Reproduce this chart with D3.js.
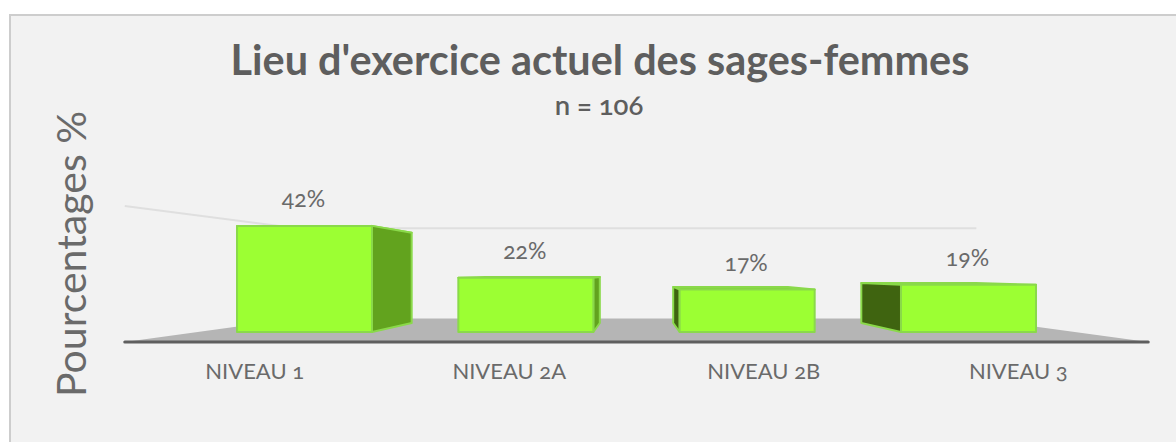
<!DOCTYPE html>
<html>
<head>
<meta charset="utf-8">
<script src="https://cdn.jsdelivr.net/npm/d3@7"></script>
<style>
html, body { margin: 0; padding: 0; background: #fff; }
svg { display: block; }
text { font-family: Lato, "Open Sans", sans-serif; fill: #5e5e5e; font-feature-settings: "onum"; }
</style>
</head>
<body>
<svg id="chart"></svg>
<script>
const categories = ["NIVEAU 1", "NIVEAU 2A", "NIVEAU 2B", "NIVEAU 3"];
const values = [42.45, 21.7, 16.98, 18.87];
const gridValues = [46.6];

const W = 1176, H = 442;
// vanishing point of the 3D view, everything is scaled towards it
const vp = { x: 636.5, y: 272 };
const barDepth = 0.85;      // back face of the bars
const floorBack = 0.775;    // back wall, seen from the bar plane
const floorFront = 1.167;   // front edge of the floor
const labelDepth = 1.15;    // category labels

function project(x, y, k) {
    return [vp.x + (x - vp.x) * k, vp.y + (y - vp.y) * k];
}

var svg = d3.select("#chart").attr("width", W).attr("height", H);

// border only on top and left, the rest runs off the picture
svg.append("rect").attr("x", 9).attr("y", 14).attr("width", W - 9).attr("height", H - 14).attr("fill", "#f2f2f2");
svg.append("path")
    .attr("fill", "none")
    .attr("stroke", "#cdcdcd")
    .attr("stroke-width", 2)
    .attr("d", "M10," + H + "V15H" + W);

var xscale = d3.scaleBand().domain(categories).range([237, 1036]).paddingInner(0.39);
var yscale = d3.scaleLinear().domain([0, 50]).range([332, 207]);

var line = d3.line();
var baseY = yscale(0);
var left = xscale(categories[0]) - 39, right = xscale(categories[3]) + xscale.bandwidth() + 39;

// floor
svg.append("path")
    .attr("fill", "#b5b5b5")
    .attr("d", line([
        project(left, baseY, floorFront),
        project(right, baseY, floorFront),
        project(right, baseY, floorBack),
        project(left, baseY, floorBack)
    ]) + "Z");

// gridline on the wall
gridValues.forEach(function (v) {
    svg.append("path")
        .attr("fill", "none")
        .attr("stroke", "#dfdfdf")
        .attr("stroke-width", 2)
        .attr("d", line([
            project(left, yscale(v), floorFront),
            project(left, yscale(v), floorBack),
            project(right, yscale(v), floorBack)
        ]));
});

// axis line
svg.append("path")
    .attr("stroke", "#5f5f5f")
    .attr("stroke-width", 3)
    .attr("stroke-linecap", "round")
    .attr("d", line([project(left, baseY, floorFront), project(right, baseY, floorFront)]));

// bars
categories.forEach(function (c, i) {
    var x0 = xscale(c), x1 = x0 + xscale.bandwidth();
    var top = yscale(values[i]);
    var g = svg.append("g").attr("stroke", "#8ad94a").attr("stroke-width", 2).attr("stroke-linejoin", "round");
    var onLeft = x1 < vp.x;
    var sx = onLeft ? x1 : x0;
    // top
    g.append("path").attr("fill", "#7cc52f")
        .attr("d", line([[x0, top], [x1, top], project(x1, top, barDepth), project(x0, top, barDepth)]) + "Z");
    // side face
    g.append("path").attr("fill", onLeft ? "#62a31e" : "#3f6410")
        .attr("d", line([[sx, top], [sx, baseY], project(sx, baseY, barDepth), project(sx, top, barDepth)]) + "Z");
    // front
    g.append("rect").attr("x", x0).attr("y", top)
        .attr("width", x1 - x0).attr("height", baseY - top)
        .attr("fill", "#9cff33");
    // value label
    svg.append("text")
        .attr("x", (x0 + x1) / 2 - 1).attr("y", top - 19)
        .attr("text-anchor", "middle")
        .attr("font-size", 23)
        .style("fill", "#6a6a6a")
        .text(Math.round(values[i]) + "%");
    // category label
    svg.append("text")
        .attr("x", project((x0 + x1) / 2, baseY, labelDepth)[0]).attr("y", 379)
        .attr("text-anchor", "middle")
        .attr("font-size", 22)
        .style("fill", "#6a6a6a")
        .text(c);
});

svg.append("text")
    .attr("x", 600).attr("y", 75)
    .attr("text-anchor", "middle")
    .attr("font-size", 41.4)
    .attr("font-weight", 700)
    .text("Lieu d'exercice actuel des sages-femmes");

svg.append("text")
    .attr("x", 599).attr("y", 115)
    .attr("text-anchor", "middle")
    .attr("font-size", 27.5)
    .attr("font-weight", 600)
    .text("n = 106");

svg.append("text")
    .attr("transform", "translate(86,254) rotate(-90)")
    .attr("text-anchor", "middle")
    .attr("font-size", 41)
    .style("fill", "#6a6a6a")
    .text("Pourcentages %");
</script>
</body>
</html>
